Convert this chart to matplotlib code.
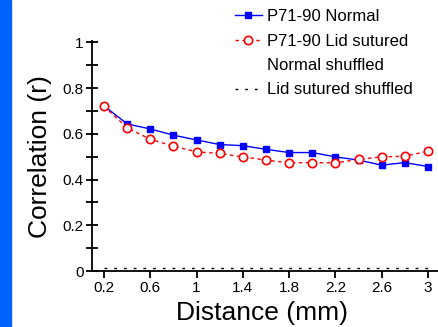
"""
Correlation vs distance, normal vs lid sutured.
"""
import matplotlib
matplotlib.use("Agg")
import matplotlib.pyplot as plt
from matplotlib.patches import Rectangle
from matplotlib.ticker import MultipleLocator

plt.rcParams["font.family"] = ["Liberation Sans", "DejaVu Sans"]

distance = [0.2, 0.4, 0.6, 0.8, 1.0, 1.2, 1.4, 1.6, 1.8, 2.0, 2.2, 2.4, 2.6, 2.8, 3.0]
normal = [0.722, 0.643, 0.621, 0.594, 0.573, 0.553, 0.548, 0.532, 0.518, 0.518,
          0.499, 0.485, 0.463, 0.474, 0.457]
lid_sutured = [0.720, 0.626, 0.576, 0.546, 0.521, 0.514, 0.499, 0.485, 0.473, 0.474,
               0.473, 0.488, 0.499, 0.502, 0.524]
normal_shuffled = [0.005] * len(distance)
lid_shuffled = [0.012] * len(distance)

xticks = [0.2, 0.6, 1, 1.4, 1.8, 2.2, 2.6, 3]
yticks = [0, 0.2, 0.4, 0.6, 0.8, 1]

fig = plt.figure(figsize=(4.39, 3.27), dpi=100)
fig.patches.append(Rectangle((0, 0), 11 / 439, 1, transform=fig.transFigure,
                             color="#0062ff", zorder=0))
ax = fig.add_axes([0.209, 0.171, 0.791, 0.704])

ax.plot(distance, normal, color="#0000ff", lw=1, marker="s", ms=5,
        label="P71-90 Normal", zorder=3)
ax.plot(distance, lid_sutured, color="#ff0000", lw=1, ls=(0, (2.5, 2.5)), marker="o", ms=6,
        mfc="white", mec="#ff0000", mew=1.2, label="P71-90 Lid sutured", zorder=4)
ax.plot(distance, normal_shuffled, ls="none", label="Normal shuffled")
ax.plot(distance, lid_shuffled, color="black", lw=1, ls=(0, (2, 5)),
        label="Lid sutured shuffled")

ax.set_xlim(0.094, 3.095)
ax.set_ylim(0, 1.006)
ax.set_xticks(xticks)
ax.set_xticklabels(["0.2", "0.6", "1", "1.4", "1.8", "2.2", "2.6", "3"])
ax.set_yticks(yticks)
ax.set_yticklabels(["0", "0.2", "0.4", "0.6", "0.8", "1"])
ax.yaxis.set_minor_locator(MultipleLocator(0.1))
ax.tick_params(axis="y", which="both", direction="inout", length=8, width=1.3,
               labelsize=11, pad=2)
ax.tick_params(axis="x", direction="out", length=5, width=1.3, labelsize=11, pad=2)
for s in ["top", "right"]:
    ax.spines[s].set_visible(False)
for s in ["left", "bottom"]:
    ax.spines[s].set_linewidth(1.3)

fig.text(40 / 439, 1 - 157 / 327, "Correlation (r)", rotation=90, fontsize=19,
         ha="center", va="center")
fig.text(262 / 439, 1 - 313 / 327, "Distance (mm)", fontsize=19,
         ha="center", va="center")

fig.legend(loc="upper left", bbox_to_anchor=(235 / 439, 1 - 9 / 327), frameon=False,
           fontsize=12, handlelength=1.6, handletextpad=0.3, labelspacing=0.57,
           borderaxespad=0, borderpad=0)

fig.savefig("out.png", dpi=100)
